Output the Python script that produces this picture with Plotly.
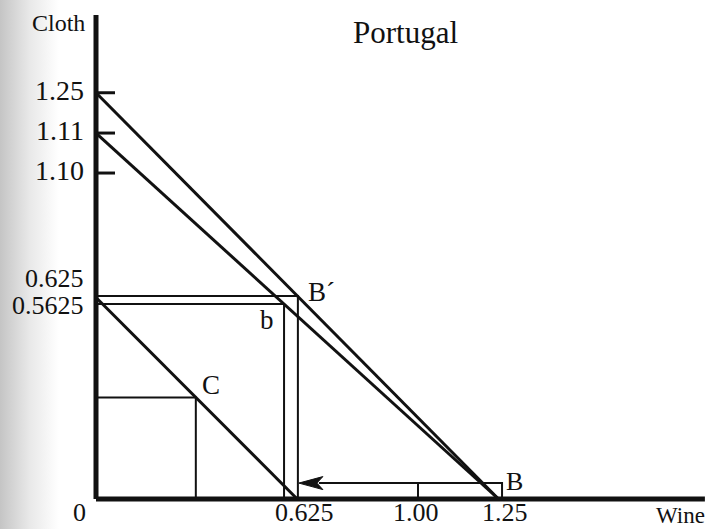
import plotly.graph_objects as go

# Cloth / Wine production frontiers for Portugal
outer_x, outer_y = [0, 1.25], [1.25, 0]          # 1.25 cloth  <-> 1.25 wine
inner_x, inner_y = [0, 1.25], [1.126, 0]         # 1.11 cloth  <-> 1.25 wine
c_line_x, c_line_y = [0, 0.625], [0.62, 0]       # consumption line through C

# Key points
b_prime = (0.627, 0.625)
b_small = (0.584, 0.600)
c_point = (0.31, 0.3125)
b_point = (1.261, 0.049)

# Axis extents
y_axis_top = 1.489
x_axis_end = 1.891

# Tick labels on the Cloth axis
y_tick_text = ["1.25", "1.11", "1.10", "0.625", "0.5625"]
y_tick_pos = [1.25, 1.126, 1.003, 0.670, 0.586]
y_tick_size = [28, 28, 28, 26, 26]
y_tick_marked = [True, True, True, False, False]

# Tick labels on the Wine axis
x_tick_text = ["0.625", "1.00", "1.25"]
x_tick_pos = [0.649, 0.995, 1.270]

INK = "#111111"
FONT = "Liberation Serif"
X_PER_PX = 1 / 322
Y_PER_PX = 1 / 325

fig = go.Figure()

# soft grey shading along the left edge of the page
fig.add_trace(go.Scatter(
    x=[-0.30, -0.115, -0.115, -0.30, -0.30],
    y=[-0.1, -0.1, 1.54, 1.54, -0.1],
    mode="lines", line=dict(width=0), fill="toself",
    fillgradient=dict(type="horizontal",
                      colorscale=[[0, "rgb(196,196,196)"], [0.5, "rgb(232,232,232)"], [1, "rgb(255,255,255)"]]),
    hoverinfo="skip", showlegend=False))


def seg(xs, ys, w):
    fig.add_trace(go.Scatter(x=xs, y=ys, mode="lines",
                             line=dict(color=INK, width=w),
                             cliponaxis=False, hoverinfo="skip", showlegend=False))


# frontiers
seg(outer_x, outer_y, 3)
seg(inner_x, inner_y, 3)
seg(c_line_x, c_line_y, 3)

# trade rectangles
seg([0, b_prime[0], b_prime[0]], [b_prime[1], b_prime[1], 0], 2)
seg([0, b_small[0], b_small[0]], [b_small[1], b_small[1], 0], 2)
seg([0, c_point[0], c_point[0]], [c_point[1], c_point[1], 0], 2)

# small box at B and the 1.00 marker
seg([b_point[0], b_point[0], outer_x[1]], [0, b_point[1], b_point[1]], 2)
seg([1.0, 1.0], [0, b_point[1]], 2)

# export arrow from B back to 0.625
tip_x, tip_y = b_prime[0] + 0.003, b_point[1]
seg([b_point[0], tip_x + 20 * X_PER_PX], [tip_y, tip_y], 2)
head_len, head_half, notch = 24 * X_PER_PX, 6.5 * Y_PER_PX, 18 * X_PER_PX
fig.add_trace(go.Scatter(
    x=[tip_x, tip_x + head_len, tip_x + notch, tip_x + head_len, tip_x],
    y=[tip_y, tip_y + head_half, tip_y, tip_y - head_half, tip_y],
    mode="lines", fill="toself", fillcolor=INK, line=dict(color=INK, width=1),
    hoverinfo="skip", showlegend=False))

# axes
seg([0, 0], [0, y_axis_top], 5)
seg([0, x_axis_end], [0, 0], 5)

# y tick marks
for pos, marked in zip(y_tick_pos, y_tick_marked):
    if marked:
        seg([0, 0.059], [pos, pos], 3)

annotations = []


def label(text, x, y, size=28, xanchor="center", yanchor="middle"):
    annotations.append(dict(x=x, y=y, xref="x", yref="y", text=text,
                            showarrow=False, xanchor=xanchor, yanchor=yanchor,
                            font=dict(family=FONT, size=size, color=INK)))


for t, p, s in zip(y_tick_text, y_tick_pos, y_tick_size):
    label(t, -0.03, p + 0.008, size=s, xanchor="right")
for t, p in zip(x_tick_text, x_tick_pos):
    label(t, p, -0.04, size=26)
label("0", -0.05, -0.04, size=26)

label("Cloth", -0.118, 1.465, size=24)
label("Wine", 1.815, -0.05, size=23)
label("Portugal", 0.96, 1.434, size=31)

label("B\u00b4", 0.652, 0.636, size=27, xanchor="left")
label("b", 0.531, 0.551, size=27)
label("C", 0.357, 0.351, size=27)
label("B", 1.30, 0.054, size=26)

fig.update_layout(
    width=711, height=529,
    margin=dict(l=0, r=0, t=0, b=0),
    paper_bgcolor="white", plot_bgcolor="white",
    xaxis=dict(range=[-96 / 322, 615 / 322], visible=False, fixedrange=True),
    yaxis=dict(range=[-30 / 325, 499 / 325], visible=False, fixedrange=True),
    annotations=annotations,
    showlegend=False,
)

fig.write_html("out.html")
